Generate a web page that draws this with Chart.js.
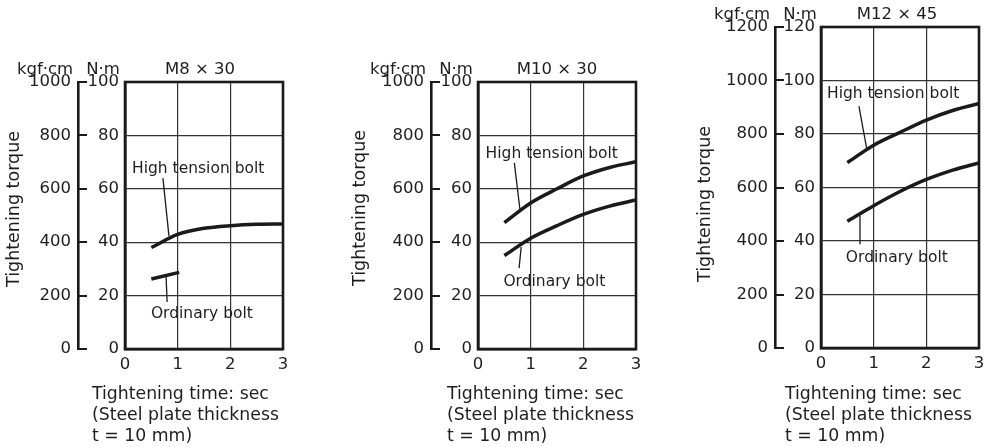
<!DOCTYPE html>
<html>
<head>
<meta charset="utf-8">
<script src="https://cdn.jsdelivr.net/npm/chart.js@4.4.1/dist/chart.umd.min.js"></script>
<style>
  html, body { margin: 0; padding: 0; background: #fff; }
  #wrap { position: relative; width: 992px; height: 447px; overflow: hidden; }
  canvas { position: absolute; top: 0; }
</style>
</head>
<body>
<div id="wrap">
  <canvas id="c1" width="330" height="447" style="left:0px"></canvas>
  <canvas id="c2" width="330" height="447" style="left:330px"></canvas>
  <canvas id="c3" width="332" height="447" style="left:660px"></canvas>
</div>
<script>
// tightening time (sec)
const timeX = [0.5, 1, 1.5, 2, 2.5, 3];

// M8 x 30, torque in kgf·cm
const m8High = [380, 429, 452, 462, 467, 468];
const m8OrdX = [0.5, 1.03];
const m8Ord = [262, 287];

// M10 x 30
const m10High = [473, 547, 600, 648, 680, 701];
const m10Ord = [350, 415, 462, 504, 535, 558];

// M12 x 45
const m12High = [693, 758, 806, 852, 888, 914];
const m12Ord = [474, 532, 585, 630, 665, 692];

const xTicks = [0, 1, 2, 3];
const titles = ['M8 \u00d7 30', 'M10 \u00d7 30', 'M12 \u00d7 45'];
const kgfMax = [1000, 1000, 1200];
const xTitleLines = ['Tightening time: sec', '(Steel plate thickness', 't = 10 mm)'];

// leader lines: label anchor + line from/to, in data units (x sec, y kgf·cm)
const m8Notes = [
  { text: 'High tension bolt', at: [1.39, 674], from: [0.72, 640], to: [0.835, 423] },
  { text: 'Ordinary bolt', at: [1.46, 131], from: [0.78, 270], to: [0.80, 176] }
];
const m10Notes = [
  { text: 'High tension bolt', at: [1.40, 730], from: [0.69, 697], to: [0.80, 517] },
  { text: 'Ordinary bolt', at: [1.45, 251], from: [0.82, 382], to: [0.78, 303] }
];
const m12Notes = [
  { text: 'High tension bolt', at: [1.37, 948], from: [0.72, 904], to: [0.87, 743] },
  { text: 'Ordinary bolt', at: [1.44, 335], from: [0.74, 496], to: [0.74, 388] }
];

const FONT = '"DejaVu Sans", sans-serif';
const INK = '#1a1a1a';
const TXT = '#1e1e1e';

// 畫框、標題、單位、註解
const decor = {
  id: 'decor',
  afterDraw(chart, args, o) {
    const { ctx, chartArea: a, scales } = chart;
    const sx = scales.x, sy = scales.kgf;
    ctx.save();
    ctx.strokeStyle = INK;
    ctx.lineWidth = 2.6;
    ctx.strokeRect(a.left, a.top, a.right - a.left, a.bottom - a.top);

    ctx.fillStyle = TXT;
    ctx.textBaseline = 'middle';
    ctx.font = '16.5px ' + FONT;
    ctx.textAlign = 'center';
    ctx.fillText(o.title, (a.left + a.right) / 2 - o.titleShift, a.top - 12);
    ctx.fillText('kgf\u00b7cm', o.line - 33, a.top - 12);
    ctx.fillText('N\u00b7m', o.line + 25, a.top - 12);

    // y title
    ctx.save();
    ctx.translate(o.yTitleX, o.yTitleY);
    ctx.rotate(-Math.PI / 2);
    ctx.font = '17.5px ' + FONT;
    ctx.fillText('Tightening torque', 0, 0);
    ctx.restore();

    // x title
    ctx.font = '17.3px ' + FONT;
    ctx.textAlign = 'left';
    xTitleLines.forEach((t, i) => {
      ctx.fillText(t, a.left + o.xTitleDx, 395 + i * 21);
    });

    // notes
    ctx.font = '15.5px ' + FONT;
    ctx.textAlign = 'center';
    ctx.lineWidth = 1.3;
    o.notes.forEach(n => {
      ctx.fillText(n.text, sx.getPixelForValue(n.at[0]), sy.getPixelForValue(n.at[1]));
      ctx.beginPath();
      ctx.moveTo(sx.getPixelForValue(n.from[0]), sy.getPixelForValue(n.from[1]));
      ctx.lineTo(sx.getPixelForValue(n.to[0]), sy.getPixelForValue(n.to[1]));
      ctx.stroke();
    });
    ctx.restore();
  }
};

function curve(xs, ys) {
  return {
    data: xs.map((v, i) => ({ x: v, y: ys[i] })),
    yAxisID: 'kgf',
    borderColor: INK,
    borderWidth: 3.5,
    pointRadius: 0,
    fill: false,
    cubicInterpolationMode: 'monotone'
  };
}

const plain = v => String(v);

function makeChart(id, cfg) {
  const tickFont = { family: FONT, size: 16.5 };
  return new Chart(document.getElementById(id), {
    type: 'line',
    data: { datasets: cfg.series },
    options: {
      responsive: false,
      animation: false,
      devicePixelRatio: 1,
      layout: { padding: { left: 0, top: cfg.top, right: cfg.padRight, bottom: 0 } },
      plugins: { legend: { display: false }, tooltip: { enabled: false }, decor: cfg },
      scales: {
        x: {
          type: 'linear', position: 'bottom', min: 0, max: 3,
          afterBuildTicks: s => { s.ticks = xTicks.map(v => ({ value: v })); },
          ticks: { padding: 6, color: TXT, font: tickFont, maxRotation: 0, callback: plain },
          grid: { color: '#333', lineWidth: 1.2, drawTicks: false },
          border: { color: INK, width: 2.6 },
          afterFit: s => { s.height = 447 - cfg.bottom; }
        },
        kgf: {
          type: 'linear', position: 'left', weight: 2, min: 0, max: cfg.kgfMax,
          ticks: { stepSize: 200, padding: 16, color: TXT, font: tickFont, callback: plain },
          grid: { drawOnChartArea: false, drawTicks: true, tickLength: -9, color: INK, lineWidth: 2 },
          border: { color: INK, width: 2.6 },
          afterFit: s => { s.width = cfg.line; }
        },
        nm: {
          type: 'linear', position: 'left', weight: 1, min: 0, max: cfg.kgfMax / 10,
          ticks: { stepSize: 20, padding: 6, color: TXT, font: tickFont, callback: plain },
          grid: { color: '#333', lineWidth: 1.2, drawTicks: false },
          border: { color: INK, width: 2.6 },
          afterFit: s => { s.width = cfg.left - cfg.line; }
        }
      }
    },
    plugins: [decor]
  });
}

makeChart('c1', {
  series: [curve(timeX, m8High), curve(m8OrdX, m8Ord)],
  title: titles[0], titleShift: 4, notes: m8Notes, kgfMax: kgfMax[0],
  line: 78, left: 125, top: 82, bottom: 349, padRight: 47,
  yTitleX: 14, yTitleY: 209, xTitleDx: -33
});
makeChart('c2', {
  series: [curve(timeX, m10High), curve(timeX, m10Ord)],
  title: titles[1], titleShift: 0, notes: m10Notes, kgfMax: kgfMax[1],
  line: 101, left: 148, top: 82, bottom: 349, padRight: 24,
  yTitleX: 30, yTitleY: 208, xTitleDx: -31
});
makeChart('c3', {
  series: [curve(timeX, m12High), curve(timeX, m12Ord)],
  title: titles[2], titleShift: 3, notes: m12Notes, kgfMax: kgfMax[2],
  line: 115, left: 161, top: 27, bottom: 348, padRight: 13,
  yTitleX: 45, yTitleY: 204, xTitleDx: -36
});
</script>
</body>
</html>
